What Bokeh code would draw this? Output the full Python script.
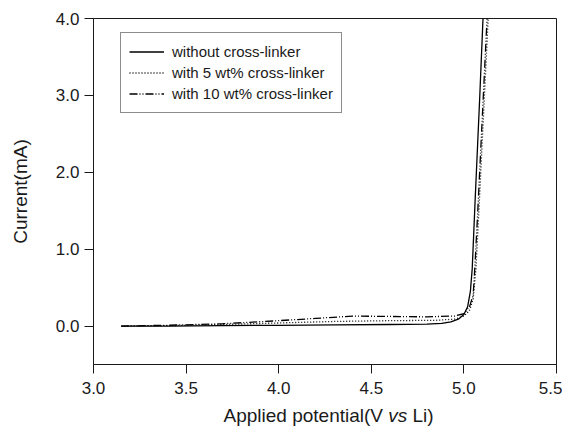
from bokeh.plotting import figure
from bokeh.layouts import column
from bokeh.models import (FixedTicker, PrintfTickFormatter, Legend,
                          LegendItem, Range1d, ColumnDataSource)
from bokeh.core.properties import value
from bokeh.embed import file_html
from bokeh.resources import INLINE

# ---- data ----
x_without = [3.15, 3.4, 3.7, 4.0, 4.3, 4.6, 4.8, 4.88, 4.93, 4.97, 5.0, 5.02,
             5.035, 5.045, 5.06, 5.085, 5.104]
y_without = [0.0, 0.0, 0.005, 0.01, 0.015, 0.02, 0.025, 0.035, 0.055, 0.09,
             0.15, 0.25, 0.45, 0.75, 1.6, 2.95, 4.05]

x_5wt = [3.15, 3.4, 3.7, 4.0, 4.3, 4.6, 4.85, 4.95, 5.0, 5.03, 5.05, 5.065,
         5.08, 5.1, 5.12, 5.135]
y_5wt = [0.0, 0.005, 0.02, 0.04, 0.06, 0.07, 0.075, 0.09, 0.13, 0.2, 0.35,
         0.75, 1.45, 2.45, 3.45, 4.2]

x_10wt = [3.15, 3.4, 3.7, 4.0, 4.2, 4.4, 4.6, 4.8, 4.95, 5.0, 5.03, 5.05,
          5.06, 5.075, 5.1, 5.126]
y_10wt = [0.0, 0.01, 0.03, 0.07, 0.1, 0.13, 0.125, 0.12, 0.13, 0.16, 0.25,
          0.4, 0.8, 1.5, 2.75, 4.05]

series_labels = ["without cross-linker", "with 5 wt% cross-linker",
                 "with 10 wt% cross-linker"]
x_ticks = [3.0, 3.5, 4.0, 4.5, 5.0, 5.5]
y_ticks = [0.0, 1.0, 2.0, 3.0, 4.0]
y_title = "Current(mA)"
x_title_parts = ["Applied potential(V", "vs", "Li)"]
x_title_styles = ["normal", "italic", "normal"]

FONT = "Liberation Sans"
INK = "#1a1a1a"
W = 562
X0, X1 = 3.0, 5.5

p = figure(width=W, height=400, output_backend="svg", toolbar_location=None,
           x_range=Range1d(X0, X1), y_range=Range1d(-0.5, 4.0),
           min_border_left=93, min_border_right=6, min_border_top=18,
           min_border_bottom=36)
p.grid.visible = False
p.outline_line_color = INK
p.outline_line_width = 1
p.background_fill_color = "white"
p.border_fill_color = "white"

for ax in (p.xaxis[0], p.yaxis[0]):
    ax.axis_line_color = INK
    ax.major_tick_line_color = INK
    ax.minor_tick_line_color = None
    ax.major_tick_in = 0
    ax.major_tick_out = 9
    ax.major_label_text_font = FONT
    ax.major_label_text_font_size = "17px"
    ax.major_label_text_color = INK
    ax.formatter = PrintfTickFormatter(format="%.1f")

p.xaxis[0].ticker = FixedTicker(ticks=x_ticks)
p.yaxis[0].ticker = FixedTicker(ticks=y_ticks)
p.xaxis[0].major_label_standoff = 8
p.yaxis[0].major_label_standoff = 5

p.yaxis[0].axis_label = y_title
p.yaxis[0].axis_label_text_font = FONT
p.yaxis[0].axis_label_text_font_size = "19px"
p.yaxis[0].axis_label_text_font_style = "normal"
p.yaxis[0].axis_label_text_color = INK
p.yaxis[0].axis_label_standoff = 22

r1 = p.line(x_without, y_without, line_color="black", line_width=1.3)
r2 = p.line(x_5wt, y_5wt, line_color="black", line_width=1.3, line_dash="1 2")
r3 = p.line(x_10wt, y_10wt, line_color="black", line_width=1.3,
            line_dash="8 2 1 2 1 2")

legend = Legend(items=[LegendItem(label=series_labels[0], renderers=[r1]),
                       LegendItem(label=series_labels[1], renderers=[r2]),
                       LegendItem(label=series_labels[2], renderers=[r3])],
                location=(27, 251))
legend.border_line_color = INK
legend.border_line_width = 1
legend.background_fill_color = "white"
legend.background_fill_alpha = 1
legend.padding = 8
legend.spacing = 0
legend.margin = 0
legend.label_height = 21
legend.glyph_height = 21
legend.glyph_width = 35
legend.label_standoff = 8
legend.label_text_font = FONT
legend.label_text_font_size = "15px"
legend.label_text_color = INK
p.add_layout(legend, "center")

# ---- strip below the plot carrying the x-axis title (mixed italic) ----
q = figure(width=W, height=26, output_backend="svg", toolbar_location=None,
           x_range=Range1d(X0, X1), y_range=Range1d(0, 26),
           min_border_left=93, min_border_right=6, min_border_top=0,
           min_border_bottom=0)
q.axis.visible = False
q.grid.visible = False
q.outline_line_color = None
q.background_fill_color = "white"
q.border_fill_color = "white"

# title piece anchors (x in data units along the potential axis)
x_title_pos = [3.702, 4.591, 4.722]
for xx, txt, style in zip(x_title_pos, x_title_parts, x_title_styles):
    src = ColumnDataSource(dict(x=[xx], y=[11], t=[txt]))
    q.text(x="x", y="y", text="t", source=src, text_align="left",
           text_baseline="middle", text_font=value(FONT),
           text_font_size="19px", text_font_style=style, text_color=INK)

layout = column(p, q, spacing=0)
open("out.html", "w").write(file_html(layout, INLINE))
